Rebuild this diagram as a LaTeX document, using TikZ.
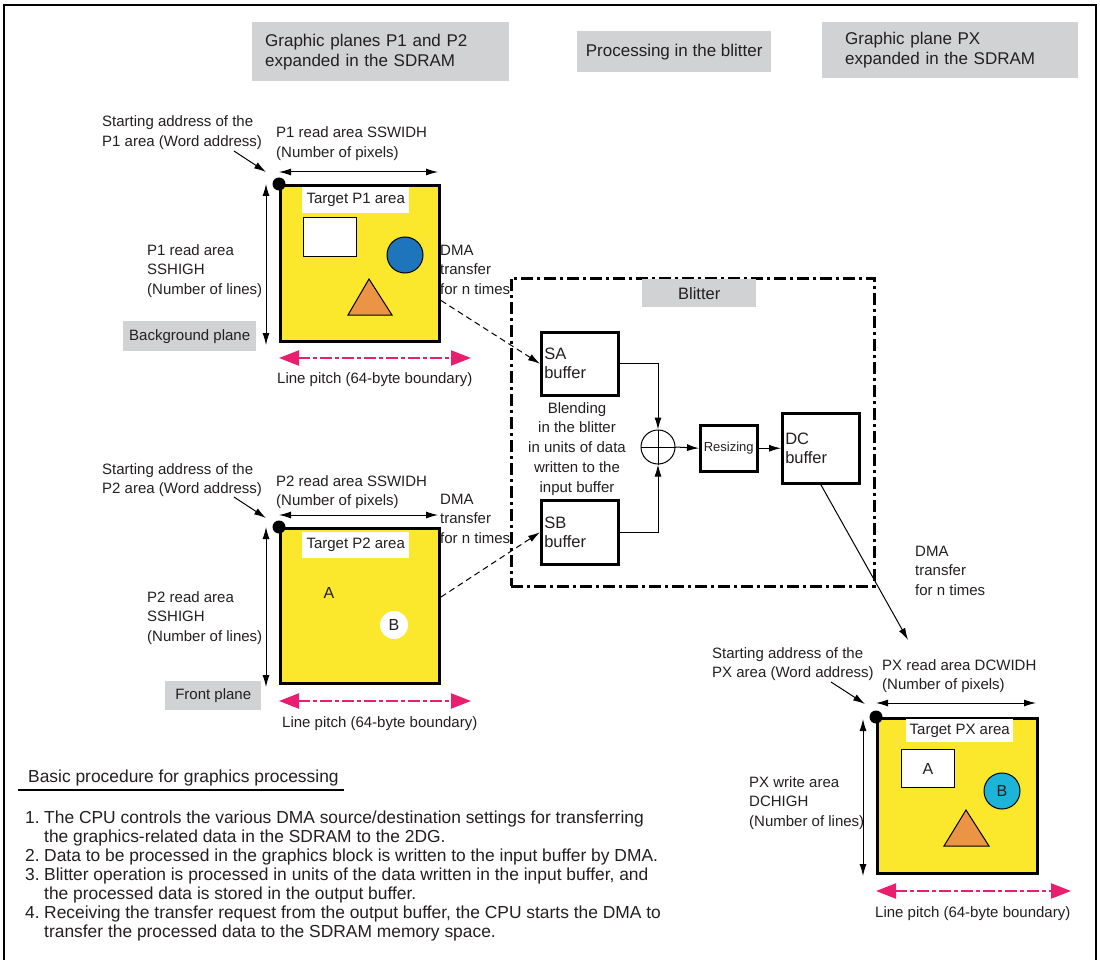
\documentclass[tikz,border=0pt]{standalone}
\usepackage{fontspec}
\setmainfont{Liberation Sans}
\usetikzlibrary{arrows.meta,calc}
\definecolor{txt}{RGB}{35,31,32}
\definecolor{yellowP}{RGB}{251,232,44}
\definecolor{blueC}{RGB}{30,117,188}
\definecolor{orangeT}{RGB}{236,148,70}
\definecolor{cyanC}{RGB}{28,180,216}
\definecolor{grayB}{RGB}{209,210,212}
\definecolor{pinkA}{RGB}{232,30,110}
\begin{document}
\begin{tikzpicture}[x=1pt,y=-1pt,
  lbl/.style={font=\fontsize{15}{19.5}\selectfont, inner sep=0pt, anchor=base west, align=left, text=txt},
  lst/.style={font=\fontsize{17.4}{19}\selectfont, inner sep=0pt, anchor=base west, align=left, text=txt},
  hdr/.style={fill=grayB, inner sep=0pt, font=\fontsize{17}{20}\selectfont, align=left, anchor=north west, text=txt},
  plane/.style={draw, line width=3pt, fill=yellowP, anchor=north west, minimum width=159pt, minimum height=156pt, inner sep=0pt},
  startdot/.style={circle, fill=black, inner sep=0pt, minimum size=13pt},
  tgt/.style={fill=white, inner sep=0pt, font=\fontsize{15}{18}\selectfont, text=txt, anchor=north west, minimum width=107pt, minimum height=26pt},
  whitebox/.style={draw, fill=white, line width=1pt, minimum width=53pt, minimum height=39pt, anchor=north west, inner sep=0pt, font=\fontsize{16}{18}\selectfont, text=txt},
  shapecirc/.style={circle, draw, line width=1pt, minimum size=36pt, inner sep=0pt, font=\fontsize{16}{18}\selectfont, text=txt},
  dim/.style={line width=1pt, {Latex[length=12pt,width=7pt]}-{Latex[length=12pt,width=7pt]}},
  ptr/.style={line width=1pt, -{Latex[length=12pt,width=7pt]}},
  flow/.style={line width=1pt, -{Latex[length=12pt,width=7pt]}},
  dma/.style={line width=1pt, dash pattern=on 6pt off 4pt, -{Latex[length=12pt,width=7pt]}},
  pitch/.style={draw=pinkA, line width=2.2pt, dash pattern=on 12pt off 3pt on 4pt off 3pt,
     {Triangle[length=20pt,width=15pt,fill=pinkA]}-{Triangle[length=20pt,width=15pt,fill=pinkA]}},
  gbox/.style={fill=grayB, inner sep=0pt, font=\fontsize{15}{18}\selectfont, text=txt, anchor=north west},
  buf/.style={draw, line width=2.5pt, fill=white, anchor=north west, align=left, font=\fontsize{16.5}{19}\selectfont, text=txt, inner xsep=3pt, inner ysep=0pt, text width=71pt},
  trifill/.style={fill=orangeT, draw, line width=1pt}
]
\useasboundingbox (0,0) rectangle (1100,960);
% frame
\draw[line width=1.8pt] (4,960) -- (4,5) -- (1096,5) -- (1096,960);

% headers
\node[hdr, minimum width=257pt, minimum height=59pt, text width=231pt, inner xsep=13pt] (h1) at (252,22) {Graphic planes P1 and P2\\expanded in the SDRAM};
\node[hdr, minimum width=194pt, minimum height=41pt, align=center] (h2) at (577,31) {Processing in the blitter};
\node[hdr, minimum width=256pt, minimum height=56pt, text width=210pt, inner xsep=23pt] (h3) at (822,22) {Graphic plane PX\\expanded in the SDRAM};

% ---------- P1 ----------
\node[plane] (p1) at (279,184) {};
\node[startdot] (d1) at (p1.north west) {};
\node[tgt] (t1) at (302,187) {Target P1 area};
\node[whitebox] (r1) at (303,217) {};
\node[shapecirc, fill=blueC] (c1) at (405,255) {};
\draw[trifill] (369,279) -- (392,315) -- (348,315) -- cycle;
\draw[dim] ([yshift=12pt]p1.north west) -- ([yshift=12pt,xshift=-3pt]p1.north east);
\draw[dim] ([xshift=-13pt]p1.north west) -- ([xshift=-13pt,yshift=-2pt]p1.south west);
\node[lbl] (sa1) at (102,146.5) {Starting address of the\\P1 area (Word address)};
\coordinate (sa1t) at (234,151);
\draw[ptr] (sa1t) -- ([xshift=-13pt,yshift=12pt]p1.north west);
\node[lbl] (w1) at (276,157.5) {P1 read area SSWIDH\\(Number of pixels)};
\node[lbl] (hh1) at (147,294) {P1 read area\\SSHIGH\\(Number of lines)};
\node[gbox, minimum width=133pt, minimum height=30pt] (bg) at (123,321) {Background plane};
\draw[pitch] ([yshift=-15pt]p1.south west) -- ([xshift=30pt,yshift=-15pt]p1.south east);
\node[lbl] (lp1) at (277,383) {Line pitch (64-byte boundary)};
\node[lbl] (dma1) at (440,294) {DMA\\transfer\\for n times};

% ---------- P2 ----------
\node[plane, minimum height=155pt] (p2) at (279,527) {};
\node[startdot] (d2) at (p2.north west) {};
\node[tgt] (t2) at (302,532) {Target P2 area};
\node[font=\fontsize{16}{18}\selectfont, text=txt, inner sep=0pt] (la) at (329,593) {A};
\node[shapecirc, draw=none, fill=white, minimum size=28pt] (lb) at (394,625) {B};
\draw[dim] ([yshift=12pt]p2.north west) -- ([yshift=12pt,xshift=-3pt]p2.north east);
\draw[dim] ([xshift=-13pt]p2.north west) -- ([xshift=-13pt,yshift=-2pt]p2.south west);
\node[lbl] (sa2) at (102,493.5) {Starting address of the\\P2 area (Word address)};
\coordinate (sa2t) at (234,497);
\draw[ptr] (sa2t) -- ([xshift=-13pt,yshift=9pt]p2.north west);
\node[lbl] (w2) at (276,505.5) {P2 read area SSWIDH\\(Number of pixels)};
\node[lbl] (hh2) at (147,641) {P2 read area\\SSHIGH\\(Number of lines)};
\node[gbox, minimum width=96pt, minimum height=29pt] (fp) at (165,681) {Front plane};
\draw[pitch] ([yshift=-16pt]p2.south west) -- ([xshift=30pt,yshift=-16pt]p2.south east);
\node[lbl] (lp2) at (282,727) {Line pitch (64-byte boundary)};
\node[lbl] (dma2) at (440,543) {DMA\\transfer\\for n times};

% ---------- Blitter ----------
\node[draw, line width=2.5pt, dash pattern=on 12pt off 4pt on 3pt off 4pt, minimum width=363pt, minimum height=308pt, anchor=north west, inner sep=0pt] (blit) at (510,277) {};
\node[gbox, minimum width=114pt, minimum height=28pt, font=\fontsize{16.5}{18}\selectfont] (bl) at (642,279) {Blitter};
\node[buf, minimum height=63pt] (sa) at (540,331) {SA\\buffer};
\node[buf, minimum height=64pt] (sb) at (540,499) {SB\\buffer};
\node[circle, draw, line width=1pt, minimum size=34pt, inner sep=0pt] (plus) at (658,447) {};
\draw[line width=1pt] (plus.north) -- (plus.south) (plus.west) -- (plus.east);
\node[draw, line width=2.5pt, minimum width=57pt, minimum height=46pt, anchor=north west, inner sep=0pt, font=\fontsize{13}{15}\selectfont, text=txt] (rs) at (699,424) {Resizing};
\node[buf, minimum height=70pt] (dc) at (781,412) {DC\\buffer};
\node[lbl, align=center, anchor=base, font=\fontsize{15}{19.7}\selectfont] (blend) at (577,492) {Blending\\in the blitter\\in units of data\\written to the\\input buffer};
\draw[flow] (sa.east) -| (plus.north);
\draw[flow] (sb.east) -| (plus.south);
\draw[flow] (plus.east) -- (rs.west);
\draw[flow] (rs.east) -- (dc.west);
\draw[dma] ([yshift=-37pt]p1.east) -- (sa.west);
\draw[dma] ([yshift=9pt]p2.east) -- (sb.west);
\coordinate (pxin) at (908,640);
\draw[flow] (dc.south) -- (pxin);
\node[lbl] (dma3) at (915,595) {DMA\\transfer\\for n times};

% ---------- PX ----------
\node[plane, minimum width=160pt, minimum height=155pt] (px) at (876,717) {};
\node[startdot] (d3) at (px.north west) {};
\node[tgt, minimum height=23pt] (t3) at (906,719) {Target PX area};
\node[whitebox, minimum height=38pt] (ra) at (901,749) {A};
\node[shapecirc, fill=cyanC] (cb) at (1002,791) {B};
\draw[trifill] (966,810) -- (989,846) -- (944,846) -- cycle;
\draw[dim] ([yshift=14pt]px.north west) -- ([yshift=14pt,xshift=-3pt]px.north east);
\draw[dim] ([xshift=-13pt,yshift=-2pt]px.north west) -- ([xshift=-13pt,yshift=-1pt]px.south west);
\node[lbl] (sa3) at (712,677.5) {Starting address of the\\PX area (Word address)};
\coordinate (sa3t) at (831,682);
\draw[ptr] (sa3t) -- ([xshift=-11pt,yshift=13pt]px.north west);
\node[lbl] (w3) at (882,689.5) {PX read area DCWIDH\\(Number of pixels)};
\node[lbl] (hh3) at (749,826) {PX write area\\DCHIGH\\(Number of lines)};
\draw[pitch] ([yshift=-16pt]px.south west) -- ([xshift=32pt,yshift=-16pt]px.south east);
\node[lbl] (lp3) at (875,917) {Line pitch (64-byte boundary)};

% ---------- Procedure ----------
\node[lst] (bp) at (28,782) {Basic procedure for graphics processing};
\draw[line width=1.5pt] ([xshift=-10pt,yshift=-8pt]bp.base west) -- ([xshift=5pt,yshift=-8pt]bp.base east);
\node[lst] (n1) at (25,823) {1.};
\node[lst] (i1) at (44,842) {The CPU controls the various DMA source/destination settings for transferring\\the graphics-related data in the SDRAM to the 2DG.};
\node[lst] (n2) at (25,861) {2.};
\node[lst] (i2) at (44,861) {Data to be processed in the graphics block is written to the input buffer by DMA.};
\node[lst] (n3) at (25,880) {3.};
\node[lst] (i3) at (44,899) {Blitter operation is processed in units of the data written in the input buffer, and\\the processed data is stored in the output buffer.};
\node[lst] (n4) at (25,918) {4.};
\node[lst] (i4) at (44,937) {Receiving the transfer request from the output buffer, the CPU starts the DMA to\\transfer the processed data to the SDRAM memory space.};
\end{tikzpicture}
\end{document}
